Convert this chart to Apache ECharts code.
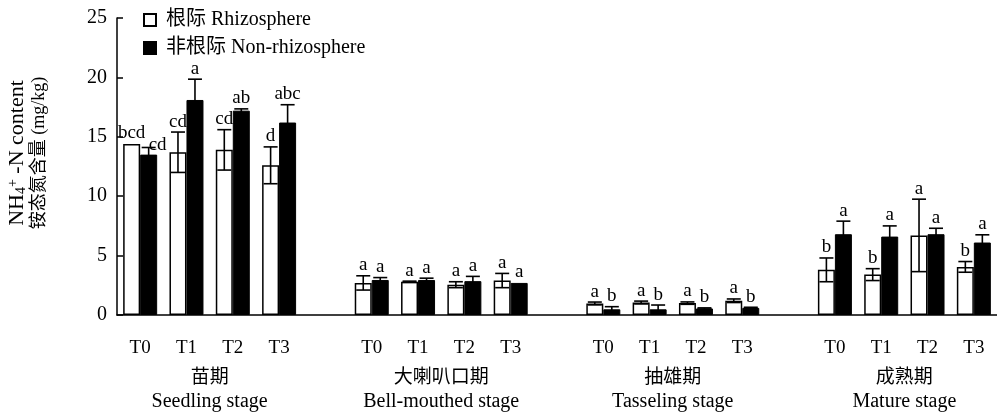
<!DOCTYPE html>
<html>
<head>
<meta charset="utf-8">
<script src="https://cdn.jsdelivr.net/npm/echarts@6/dist/echarts.min.js"></script>
<style>
  html, body { margin: 0; padding: 0; background: #fff; }
  #chart { width: 997px; height: 416px; }
</style>
</head>
<body>
<div id="chart"></div>
<script>
// Treatments and growth stages
const treatments = ['T0', 'T1', 'T2', 'T3'];
const stagesCn = ['苗期', '大喇叭口期', '抽雄期', '成熟期'];
const stagesEn = ['Seedling stage', 'Bell-mouthed stage', 'Tasseling stage', 'Mature stage'];

// NH4+-N content (mg/kg), one row per stage, one column per treatment
const rhizoMean = [
  [14.4, 13.7, 13.9, 12.6],
  [2.7, 2.8, 2.55, 2.9],
  [0.97, 1.05, 1.0, 1.2],
  [3.8, 3.4, 6.7, 4.05]
];
const rhizoErr = [
  [0, 1.7, 1.7, 1.55],
  [0.6, 0.05, 0.25, 0.6],
  [0.12, 0.12, 0.1, 0.15],
  [1.0, 0.5, 3.05, 0.45]
];
const rhizoSig = [
  ['bcd', 'cd', 'cd', 'd'],
  ['a', 'a', 'a', 'a'],
  ['a', 'a', 'a', 'a'],
  ['b', 'b', 'a', 'b']
];
const nonRhizoMean = [
  [13.5, 18.1, 17.2, 16.2],
  [2.95, 2.95, 2.85, 2.7],
  [0.48, 0.48, 0.55, 0.6],
  [6.8, 6.6, 6.8, 6.1]
];
const nonRhizoErr = [
  [0.6, 1.75, 0.15, 1.5],
  [0.2, 0.15, 0.4, 0],
  [0.22, 0.36, 0.05, 0.05],
  [1.1, 0.9, 0.5, 0.65]
];
const nonRhizoSig = [
  ['cd', 'a', 'ab', 'abc'],
  ['a', 'a', 'a', 'a'],
  ['b', 'b', 'b', 'b'],
  ['a', 'a', 'a', 'a']
];
const yMin = 0, yMax = 25, yStep = 5;

const SERIF = '"Liberation Serif", "Times New Roman", "Noto Sans CJK SC", serif';
const BAR_W = 17;

// Category slots: four treatments per stage with an empty slot between stages
const categories = [];
stagesCn.forEach((s, g) => {
  treatments.forEach(t => categories.push(t));
  if (g < stagesCn.length - 1) categories.push('');
});
const slotOf = (g, t) => g * (treatments.length + 1) + t;

function barData(mean) {
  const d = categories.map(() => '-');
  mean.forEach((row, g) => row.forEach((v, t) => { d[slotOf(g, t)] = v; }));
  return d;
}
function errData(mean, err) {
  const out = [];
  mean.forEach((row, g) => row.forEach((v, t) => out.push([slotOf(g, t), v, err[g][t]])));
  return out;
}
function sigList(sig) {
  const out = [];
  sig.forEach(row => row.forEach(s => out.push(s)));
  return out;
}

// Small manual nudges for letters that would otherwise collide
const letterNudge = { 'n0': [9, 8] };

function errorRenderer(shift, letters, key) {
  return function (params, api) {
    const x = api.value(0), v = api.value(1), e = api.value(2);
    const top = api.coord([x, v + e]);
    const bot = api.coord([x, v - e]);
    const cx = top[0] + shift;
    const lineStyle = { stroke: '#000', lineWidth: 1.6 };
    const children = [];
    if (e > 0) {
      children.push({ type: 'line', shape: { x1: cx, y1: top[1], x2: cx, y2: bot[1] }, style: lineStyle });
      children.push({ type: 'line', shape: { x1: cx - 7, y1: top[1], x2: cx + 7, y2: top[1] }, style: lineStyle });
      children.push({ type: 'line', shape: { x1: cx - 7, y1: bot[1], x2: cx + 7, y2: bot[1] }, style: lineStyle });
    }
    const nudge = letterNudge[key + params.dataIndex] || [0, 0];
    children.push({
      type: 'text',
      x: cx + nudge[0],
      y: top[1] - 1 + nudge[1],
      style: {
        text: letters[params.dataIndex],
        fill: '#000',
        font: '19px ' + SERIF,
        align: 'center',
        verticalAlign: 'bottom'
      }
    });
    return { type: 'group', children };
  };
}

const chart = echarts.init(document.getElementById('chart'), null, { renderer: 'canvas' });

chart.setOption({
  animation: false,
  backgroundColor: '#fff',
  grid: { left: 117, top: 18, width: 887, height: 297, containLabel: false },
  legend: {
    orient: 'vertical',
    left: 138,
    top: 5,
    itemWidth: 12,
    itemHeight: 12,
    itemGap: 8,
    icon: 'rect',
    data: ['根际 Rhizosphere', '非根际 Non-rhizosphere'],
    textStyle: { fontSize: 20, fontFamily: SERIF, color: '#000', lineHeight: 20, padding: [0, 0, 0, 5] }
  },
  xAxis: {
    type: 'category',
    data: categories,
    axisLine: { lineStyle: { color: '#000', width: 1.5 } },
    axisTick: { inside: true, length: 5, interval: 0, alignWithLabel: false, lineStyle: { color: '#000', width: 1.5 } },
    axisLabel: { interval: 0, fontSize: 19, fontFamily: SERIF, color: '#000', margin: 24 },
    splitLine: { show: false }
  },
  yAxis: {
    type: 'value',
    min: yMin,
    max: yMax,
    interval: yStep,
    axisLine: { show: true, lineStyle: { color: '#000', width: 1.5 } },
    axisTick: { show: true, inside: true, length: 6, lineStyle: { color: '#000', width: 1.5 } },
    axisLabel: { fontSize: 20, fontFamily: SERIF, color: '#000', margin: 10 },
    splitLine: { show: false }
  },
  series: [
    {
      name: '根际 Rhizosphere',
      type: 'bar',
      barWidth: BAR_W,
      barGap: '0%',
      data: barData(rhizoMean),
      itemStyle: { color: '#fff', borderColor: '#000', borderWidth: 1.5 }
    },
    {
      name: '非根际 Non-rhizosphere',
      type: 'bar',
      barWidth: BAR_W,
      barGap: '0%',
      data: barData(nonRhizoMean),
      itemStyle: { color: '#000', borderColor: '#000', borderWidth: 1 }
    },
    {
      type: 'custom',
      z: 5,
      encode: { x: 0, y: 1 },
      data: errData(rhizoMean, rhizoErr),
      renderItem: errorRenderer(-BAR_W / 2, sigList(rhizoSig), 'r')
    },
    {
      type: 'custom',
      z: 5,
      encode: { x: 0, y: 1 },
      data: errData(nonRhizoMean, nonRhizoErr),
      renderItem: errorRenderer(BAR_W / 2, sigList(nonRhizoSig), 'n')
    }
  ]
});

// Stage names under each group of treatments, plus the y-axis title
const graphics = [];
stagesCn.forEach((name, g) => {
  const a = chart.convertToPixel({ xAxisIndex: 0 }, slotOf(g, 1));
  const b = chart.convertToPixel({ xAxisIndex: 0 }, slotOf(g, 2));
  const cx = (a + b) / 2;
  graphics.push({
    type: 'text', x: cx, y: 378,
    style: { text: name, fill: '#000', font: '19px ' + SERIF, align: 'center', verticalAlign: 'middle' }
  });
  graphics.push({
    type: 'text', x: cx, y: 402,
    style: { text: stagesEn[g], fill: '#000', font: '20px ' + SERIF, align: 'center', verticalAlign: 'middle' }
  });
});
graphics.push({
  type: 'text',
  x: 28,
  y: 153,
  rotation: Math.PI / 2,
  style: {
    text: '{a|NH}{s|4}{p|+}{a| -N content}\n{b|铵态氮含量 (mg/kg)}',
    fill: '#000',
    align: 'center',
    verticalAlign: 'middle',
    rich: {
      a: { fontSize: 22, fontFamily: SERIF, lineHeight: 22 },
      s: { fontSize: 14, fontFamily: SERIF, lineHeight: 14, verticalAlign: 'bottom' },
      p: { fontSize: 14, fontFamily: SERIF, lineHeight: 14, verticalAlign: 'top' },
      b: { fontSize: 18, fontFamily: SERIF, lineHeight: 21 }
    }
  }
});
chart.setOption({ graphic: graphics });
</script>
</body>
</html>
